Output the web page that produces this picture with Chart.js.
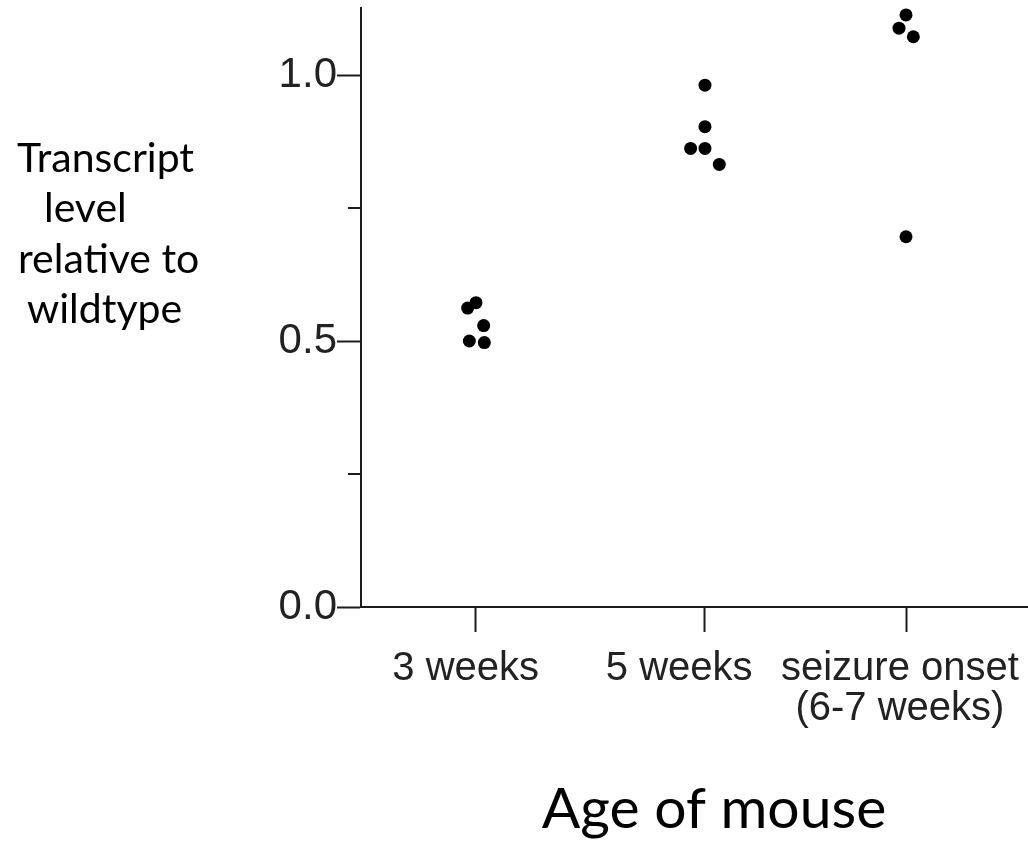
<!DOCTYPE html>
<html>
<head>
<meta charset="utf-8">
<script src="https://cdn.jsdelivr.net/npm/chart.js@4"></script>
<style>
  html, body { margin: 0; padding: 0; background: #fff; }
</style>
</head>
<body>
<canvas id="ChartAge" width="1028" height="846"></canvas>
<script>
// groups along the x axis
const grupos = ['3 weeks', '5 weeks', ['seizure onset', '(6-7 weeks)']];

// transcript level of each mouse, relative to wildtype
const nivel3sem = [0.572, 0.562, 0.529, 0.500, 0.497];
const nivel5sem = [0.981, 0.903, 0.862, 0.862, 0.832];
const nivelCrise = [1.113, 1.088, 1.072, 0.696];

// sideways spread of the dots so they don't overlap
const desvio3sem = [0, -0.125, 0.115, -0.1, 0.125];
const desvio5sem = [0, 0, -0.215, 0, 0.215];
const desvioCrise = [0, -0.105, 0.11, 0];

const yTicks = [0, 0.25, 0.5, 0.75, 1.0];

// where each group sits on the x scale (0..10) and where its label is centred
const posGrupo = [1.724, 5.157, 8.171];
const posRotulo = [1.57, 4.77, 8.08];

const niveis = [nivel3sem, nivel5sem, nivelCrise];
const desvios = [desvio3sem, desvio5sem, desvioCrise];

var pontos = [];
for (var g = 0; g < niveis.length; g++) {
    for (var i = 0; i < niveis[g].length; i++) {
        pontos.push({ x: posGrupo[g] + desvios[g][i], y: niveis[g][i] });
    }
}

const corEixo = '#1c1c1c';
const corTexto = '#222';

// axis titles, plus the short ticks at 0.25 / 0.75
const extras = {
    id: 'extras',
    afterDraw(chart) {
        const ctx = chart.ctx;
        const y = chart.scales.y;
        const esq = chart.chartArea.left;

        ctx.save();
        ctx.strokeStyle = corEixo;
        ctx.lineWidth = 2;
        [0.25, 0.75].forEach(v => {
            const py = Math.round(y.getPixelForValue(v));
            ctx.beginPath();
            ctx.moveTo(esq - 13, py);
            ctx.lineTo(esq, py);
            ctx.stroke();
        });

        ctx.fillStyle = '#000';
        ctx.font = '41px Lato';
        ctx.textAlign = 'left';
        ctx.textBaseline = 'alphabetic';
        const linhas = ['Transcript', 'level', 'relative to', 'wildtype'];
        const xs = [17, 44, 18, 27];
        const bases = [172, 222, 273, 323];
        linhas.forEach((t, k) => ctx.fillText(t, xs[k], bases[k]));

        ctx.font = '57px Lato';
        ctx.textAlign = 'center';
        ctx.fillText('Age of mouse', 714, 828);
        ctx.restore();
    }
};

const semBorda = s => {
    s.paddingTop = 0;
    s.paddingBottom = 0;
    s.paddingLeft = 0;
    s.paddingRight = 0;
};

const config = {
    type: 'scatter',
    data: {
        datasets: [{
            label: 'Transcript level',
            data: pontos,
            backgroundColor: '#000',
            borderWidth: 0,
            pointRadius: 6.5,
            pointHoverRadius: 6.5,
            clip: false
        }]
    },
    options: {
        responsive: false,
        animation: false,
        layout: { autoPadding: false, padding: { top: 8, right: 0, bottom: 0, left: 0 } },
        plugins: {
            legend: { display: false },
            tooltip: { enabled: false }
        },
        scales: {
            x: {
                type: 'linear',
                position: 'bottom',
                min: 0,
                max: 10,
                afterBuildTicks: s => { s.ticks = posGrupo.map(v => ({ value: v })); },
                afterFit: s => { s.height = 25; semBorda(s); },
                ticks: { display: false },
                grid: {
                    drawOnChartArea: false,
                    tickLength: 25,
                    tickWidth: 2,
                    tickColor: corEixo
                },
                border: { display: true, color: corEixo, width: 2 }
            },
            x2: {
                type: 'linear',
                position: 'bottom',
                min: 0,
                max: 10,
                afterBuildTicks: s => { s.ticks = posRotulo.map(v => ({ value: v })); },
                afterFit: s => { s.height = 214; semBorda(s); },
                ticks: {
                    autoSkip: false,
                    maxRotation: 0,
                    padding: 17,
                    color: corTexto,
                    font: { family: 'Liberation Sans, Arial', size: 40, lineHeight: 1.0 },
                    callback: (v, idx) => grupos[idx]
                },
                grid: { display: false, drawTicks: false },
                border: { display: false }
            },
            y: {
                min: 0,
                max: 1.126,
                afterBuildTicks: s => { s.ticks = yTicks.map(v => ({ value: v })); },
                afterFit: s => { s.width = 361; semBorda(s); },
                ticks: {
                    padding: 0,
                    color: corTexto,
                    font: { family: 'Liberation Sans, Arial', size: 42 },
                    callback: v => (Math.abs(v % 0.5) < 1e-9 ? v.toFixed(1) : '')
                },
                grid: {
                    drawOnChartArea: false,
                    tickLength: 24,
                    tickWidth: 2,
                    tickColor: ctx => (Math.abs(ctx.tick.value % 0.5) < 1e-9 ? corEixo : 'rgba(0,0,0,0)')
                },
                border: { display: true, color: corEixo, width: 2 }
            }
        }
    },
    plugins: [extras]
};

const myChart = new Chart(document.getElementById('ChartAge'), config);
</script>
</body>
</html>
